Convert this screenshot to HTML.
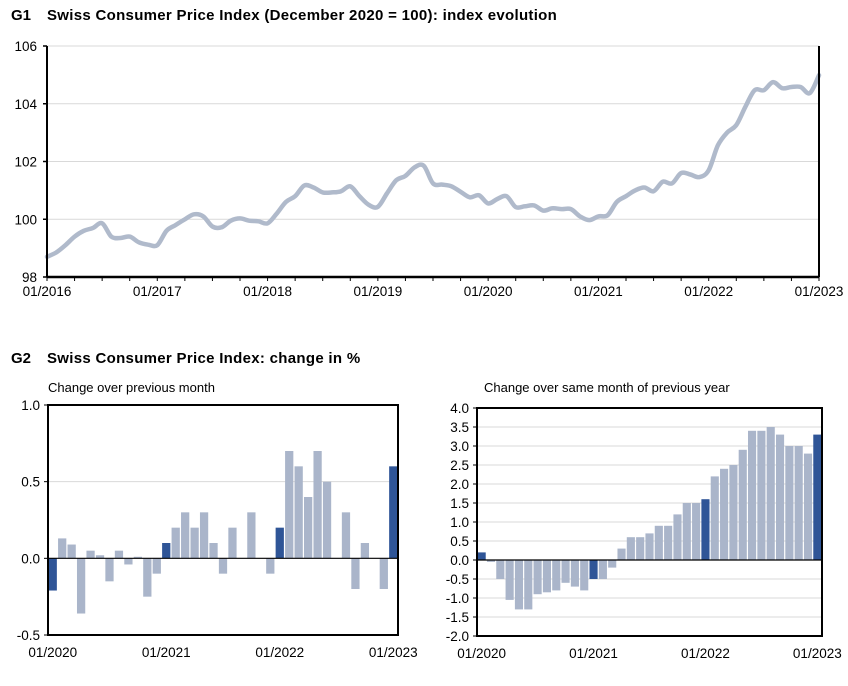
<!DOCTYPE html>
<html><head><meta charset="utf-8"><style>
body{margin:0;background:#fff;font-family:"Liberation Sans",Arial,sans-serif}
svg text{font-family:"Liberation Sans",Arial,sans-serif}
</style></head><body>
<svg id="s" width="848" height="681" viewBox="0 0 848 681" xmlns="http://www.w3.org/2000/svg">
<g font-size="15" font-weight="bold" fill="#000"><text x="11" y="20">G1</text><text x="47" y="20" letter-spacing="0.3">Swiss Consumer Price Index (December 2020 = 100): index evolution</text></g>
<g font-size="15" font-weight="bold" fill="#000"><text x="11" y="363">G2</text><text x="47" y="363" letter-spacing="0.3">Swiss Consumer Price Index: change in %</text></g>
<text x="48" y="392" font-size="13" fill="#000">Change over previous month</text>
<text x="484" y="392" font-size="13" fill="#000">Change over same month of previous year</text>
<g id="g1"></g><g id="g2"></g><g id="g3"></g>
</svg>
<script>
// G1 data: monthly index Jan 2016 .. Jan 2023
const indexValues=[98.7,98.85,99.1,99.4,99.6,99.7,99.86,99.4,99.35,99.4,99.2,99.12,
99.1,99.6,99.8,100.0,100.17,100.1,99.75,99.72,99.95,100.03,99.95,99.93,
99.86,100.2,100.6,100.8,101.17,101.1,100.93,100.93,100.97,101.14,100.8,100.5,
100.43,100.9,101.35,101.5,101.8,101.85,101.24,101.2,101.14,100.95,100.76,100.83,
100.55,100.7,100.8,100.42,100.45,100.48,100.3,100.38,100.35,100.35,100.1,99.97,
100.1,100.14,100.6,100.8,101.0,101.1,100.97,101.3,101.24,101.6,101.55,101.46,
101.7,102.56,103.0,103.26,103.9,104.47,104.47,104.75,104.54,104.58,104.58,104.37,104.99];
const g1YTicks=[98,100,102,104,106];
const g1XLabels=["01/2016","01/2017","01/2018","01/2019","01/2020","01/2021","01/2022","01/2023"];
// G2 data: Jan 2020 .. Jan 2023
const momValues=[-0.21,0.13,0.09,-0.36,0.05,0.02,-0.15,0.05,-0.04,0.01,-0.25,-0.1,
0.1,0.2,0.3,0.2,0.3,0.1,-0.1,0.2,0,0.3,0,-0.1,
0.2,0.7,0.6,0.4,0.7,0.5,0,0.3,-0.2,0.1,0,-0.2,0.6];
const yoyValues=[0.2,-0.05,-0.5,-1.05,-1.3,-1.3,-0.9,-0.85,-0.8,-0.6,-0.7,-0.8,
-0.5,-0.5,-0.2,0.3,0.6,0.6,0.7,0.9,0.9,1.2,1.5,1.5,
1.6,2.2,2.4,2.5,2.9,3.4,3.4,3.5,3.3,3.0,3.0,2.8,3.3];
const momYTicks=[-0.5,0,0.5,1.0];
const yoyYTicks=[-2,-1.5,-1,-0.5,0,0.5,1,1.5,2,2.5,3,3.5,4];
const g2XLabels=["01/2020","01/2021","01/2022","01/2023"];

const NS="http://www.w3.org/2000/svg";
function mk(parent,tag,attrs){const e=document.createElementNS(NS,tag);for(const k in attrs)e.setAttribute(k,attrs[k]);parent.appendChild(e);return e;}

// ---- G1 ----
(function(){
const g=document.getElementById('g1');
const x0=47,x1=819,yT=46,yB=277,ymin=98,ymax=106;
const X=i=>x0+(x1-x0)*i/(indexValues.length-1);
const Y=v=>yB-(v-ymin)/(ymax-ymin)*(yB-yT);
g1YTicks.forEach(t=>{
 if(t!==ymin){const l=mk(g,'line',{x1:x0,x2:x1,y1:Y(t),y2:Y(t),stroke:'#d9d9d9','stroke-width':1});
 
 }
 const tx=mk(g,'text',{x:x0-10,y:Y(t)+5,'font-size':13.5,'text-anchor':'end',fill:'#000'});tx.textContent=t;
 
 
 mk(g,'line',{x1:x0-4,x2:x0,y1:Y(t),y2:Y(t),stroke:'#000','stroke-width':1.5});
});
for(let i=0;i<indexValues.length;i+=3){mk(g,'line',{x1:X(i),x2:X(i),y1:yB,y2:yB+4,stroke:'#000','stroke-width':1});}
g1XLabels.forEach((s,k)=>{const tx=mk(g,'text',{x:X(k*12),y:yB+19,'font-size':13.5,'text-anchor':'middle',fill:'#000'});tx.textContent=s;
 
 });
const pts=indexValues.map((v,i)=>[X(i),Y(v)]);
let d='M'+pts[0][0].toFixed(1)+','+pts[0][1].toFixed(1);
for(let i=0;i<pts.length-1;i++){
 const p0=pts[Math.max(0,i-1)],p1=pts[i],p2=pts[i+1],p3=pts[Math.min(pts.length-1,i+2)];
 const c1x=p1[0]+(p2[0]-p0[0])/6,c1y=p1[1]+(p2[1]-p0[1])/6;
 const c2x=p2[0]-(p3[0]-p1[0])/6,c2y=p2[1]-(p3[1]-p1[1])/6;
 d+='C'+c1x.toFixed(1)+','+c1y.toFixed(1)+' '+c2x.toFixed(1)+','+c2y.toFixed(1)+' '+p2[0].toFixed(1)+','+p2[1].toFixed(1);
}
const p=mk(g,'path',{d:d,fill:'none',stroke:'#b0bacb','stroke-width':4.5,'stroke-linejoin':'round','stroke-linecap':'round'});


mk(g,'line',{x1:x0,x2:x0,y1:yT,y2:yB,stroke:'#000','stroke-width':2});
mk(g,'line',{x1:x1,x2:x1,y1:yT,y2:yB,stroke:'#000','stroke-width':2});
mk(g,'line',{x1:x0,x2:x1,y1:yB,y2:yB,stroke:'#000','stroke-width':2.5});
})();

// ---- bar charts ----
function bars(id,vals,ticks,x0,x1,yT,yB,ymin,ymax,prefix,fmt){
const g=document.getElementById(id);
const Y=v=>yB-(v-ymin)/(ymax-ymin)*(yB-yT);
const w=(x1-x0)/vals.length;
ticks.forEach(t=>{
 if(t!==ymin&&t!==ymax&&t!==0){const l=mk(g,'line',{x1:x0,x2:x1,y1:Y(t),y2:Y(t),stroke:'#d9d9d9','stroke-width':1});
 
 }
 const tx=mk(g,'text',{x:x0-8,y:Y(t)+5,'font-size':13.5,'text-anchor':'end',fill:'#000'});tx.textContent=t.toFixed(fmt);
 
 
 mk(g,'line',{x1:x0-4,x2:x0,y1:Y(t),y2:Y(t),stroke:'#000','stroke-width':1});
});
vals.forEach((v,i)=>{
 const y=Math.min(Y(v),Y(0)),h=Math.abs(Y(v)-Y(0));
 const r=mk(g,'rect',{x:x0+i*w+0.6,y:y,width:w-1.2,height:h,fill:(i%12===0)?'#2f5597':'#aab5ca'});
 
 
});
g2XLabels.forEach((s,k)=>{const tx=mk(g,'text',{x:x0+(k*12+0.5)*w,y:yB+22,'font-size':13.5,'text-anchor':'middle',fill:'#000'});tx.textContent=s;
 
 });
mk(g,'line',{x1:x0,x2:x1,y1:Y(0),y2:Y(0),stroke:'#000','stroke-width':1.2});
mk(g,'rect',{x:x0,y:yT,width:x1-x0,height:yB-yT,fill:'none',stroke:'#000','stroke-width':2});
}
bars('g2',momValues,momYTicks,48,398,405,635,-0.5,1.0,'mom',1);
bars('g3',yoyValues,yoyYTicks,477,822,408,636,-2,4,'yoy',1);
</script>
</body></html>
